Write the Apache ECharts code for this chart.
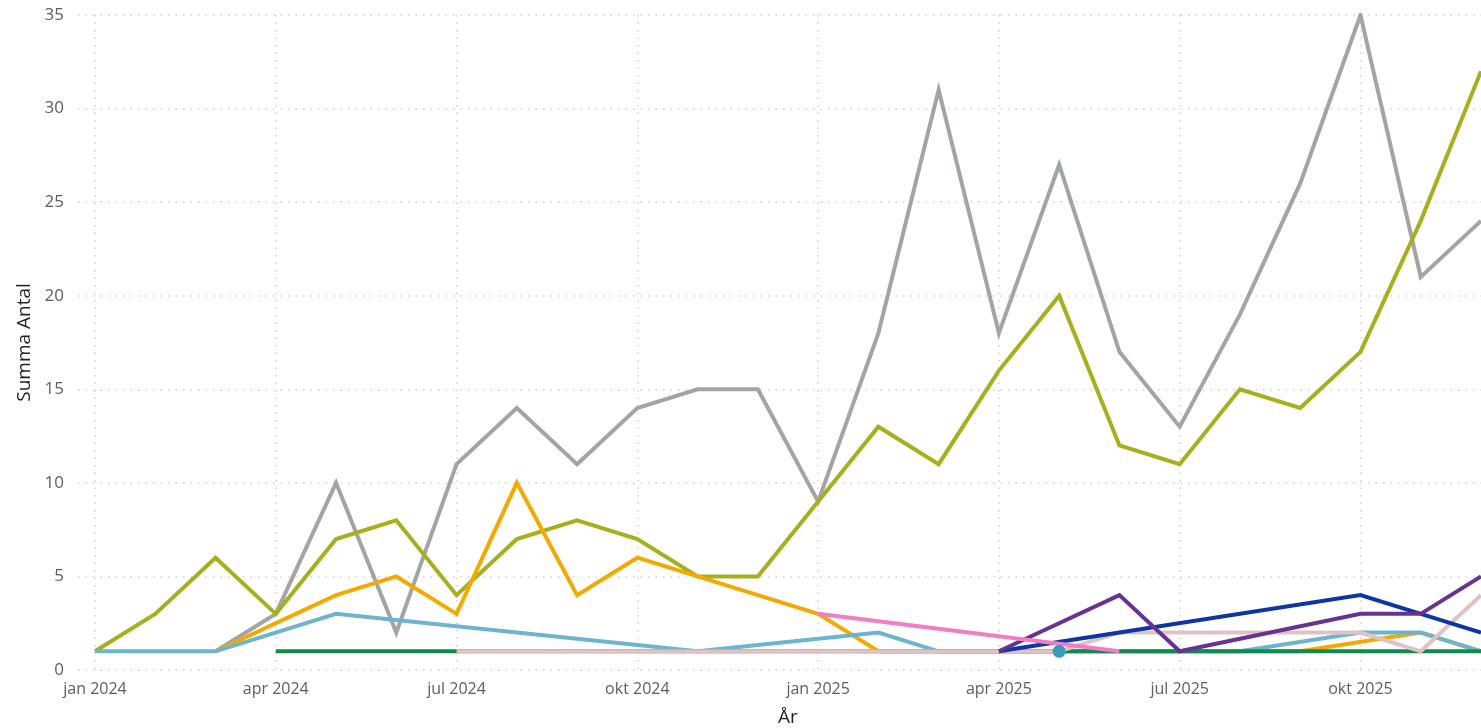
<!DOCTYPE html>
<html>
<head>
<meta charset="utf-8">
<script src="https://cdn.jsdelivr.net/npm/echarts@6/dist/echarts.min.js"></script>
<style>
html,body{margin:0;padding:0;background:#fff;}
#chart{width:1481px;height:728px;}
</style>
</head>
<body>
<div id="chart"></div>
<script>
const months = ["jan 2024","feb 2024","mar 2024","apr 2024","maj 2024","jun 2024","jul 2024","aug 2024","sep 2024","okt 2024","nov 2024","dec 2024",
                "jan 2025","feb 2025","mar 2025","apr 2025","maj 2025","jun 2025","jul 2025","aug 2025","sep 2025","okt 2025","nov 2025","dec 2025"];
const yTicks = [0,5,10,15,20,25,30,35];
const sGray     = [null,null,1,3,10,2,11,14,11,14,15,15,9,18,31,18,27,17,13,19,26,35,21,24];
const sOlive    = [1,3,6,3,7,8,4,7,8,7,5,5,9,13,11,16,20,12,11,15,14,17,24,32];
const sOrange   = [null,null,1,null,4,5,3,10,4,6,5,4,3,1,null,null,null,null,null,null,1,null,2,1];
const sLightBlue= [1,1,1,null,3,null,null,null,null,null,1,null,null,2,1,null,null,null,null,1,null,2,2,1];
const sGreen    = [null,null,null,1,1,1,1,1,1,1,1,1,1,1,1,1,1,1,1,1,1,1,1,1];
const sPalePink = [null,null,null,null,null,null,1,1,1,1,1,1,1,1,1,1,1,2,2,2,2,2,1,4];
const sDarkBlue = [null,null,null,null,null,null,null,null,null,null,null,null,null,null,null,1,null,2,null,null,null,4,3,2];
const sPurple   = [null,null,null,null,null,null,null,null,null,null,null,null,null,null,null,1,null,4,1,null,null,3,3,5];
const sPink     = [null,null,null,null,null,null,null,null,null,null,null,null,3,null,null,null,null,1,null,null,null,null,null,null];
const sTeal     = [null,null,null,null,null,null,null,null,null,null,null,null,null,null,null,null,1,null,null,null,null,null,null,null];

const FONT = '"Segoe UI","Open Sans","Noto Sans",sans-serif';
const chart = echarts.init(document.getElementById('chart'));

function line(name, data, color) {
  return {
    name, type: 'line', data, connectNulls: true,
    showSymbol: false, symbol: 'none',
    lineStyle: { color, width: 4, join: 'miter' },
    itemStyle: { color },
    emphasis: { disabled: true },
    animation: false,
    xAxisIndex: 0, yAxisIndex: 0
  };
}

const series = [
  line('Grå', sGray, '#A2A5A6'),
  line('Oliv', sOlive, '#A5B01C'),
  line('Orange', sOrange, '#F4A900'),
  line('Ljusblå', sLightBlue, '#6DB4CE'),
  line('Grön', sGreen, '#118A4E'),
  line('Ljusrosa', sPalePink, '#E1C2C3'),
  line('Mörkblå', sDarkBlue, '#0E35A6'),
  line('Lila', sPurple, '#683292'),
  line('Rosa', sPink, '#F17DC2'),
  {
    name: 'Turkos', type: 'line', data: sTeal, showSymbol: true, symbol: 'circle', symbolSize: 13,
    itemStyle: { color: '#399CBE' }, lineStyle: { color: '#399CBE', width: 4 },
    emphasis: { disabled: true }, animation: false, xAxisIndex: 0, yAxisIndex: 0
  }
];

chart.setOption({
  animation: false,
  backgroundColor: '#ffffff',
  grid: [
    { left: 95, right: 0, top: 15, bottom: 58, containLabel: false, outerBoundsMode: 'none' },
    { left: 78, right: 0, top: 15, bottom: 58, containLabel: false, outerBoundsMode: 'none' }
  ],
  xAxis: [
    {
      type: 'category', gridIndex: 0, data: months, boundaryGap: false,
      axisLine: { show: false }, axisTick: { show: false },
      axisLabel: { interval: 2, color: '#605E5C', fontSize: 16, fontFamily: FONT, margin: 11 },
      splitLine: { show: true, interval: 2, lineStyle: { color: '#D0D0D0', type: [1.5, 6], width: 1.5 } },
      name: 'År', nameLocation: 'middle', nameGap: 38,
      nameTextStyle: { color: '#252423', fontSize: 19, fontFamily: FONT }
    },
    { type: 'value', gridIndex: 1, show: false, min: 0, max: 1 }
  ],
  yAxis: [
    { type: 'value', gridIndex: 0, min: 0, max: 35, interval: 5, show: false },
    {
      type: 'value', gridIndex: 1, min: 0, max: 35, interval: 5,
      axisLine: { show: false }, axisTick: { show: false },
      axisLabel: { color: '#605E5C', fontSize: 17, fontFamily: FONT, margin: 14,
        customValues: yTicks },
      splitLine: { show: true, lineStyle: { color: '#D0D0D0', type: [1.5, 6], width: 1.5 } },
      name: 'Summa Antal', nameLocation: 'middle', nameGap: 43,
      nameTextStyle: { color: '#252423', fontSize: 19, fontFamily: FONT }
    }
  ],
  series
});
</script>
</body>
</html>
